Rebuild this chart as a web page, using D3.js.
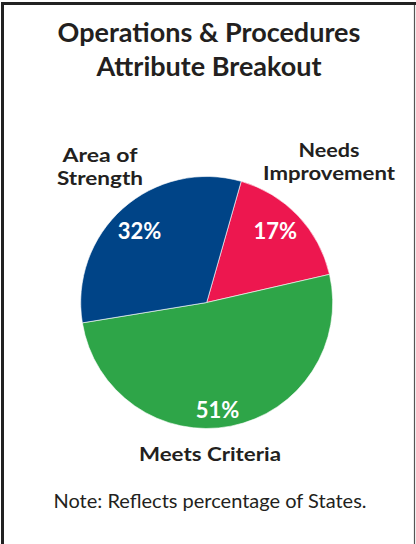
<!DOCTYPE html>
<html>
<head>
<meta charset="utf-8">
<script src="https://cdn.jsdelivr.net/npm/d3@7"></script>
<style>
  html, body { margin: 0; padding: 0; background: #fff; }
  svg { display: block; }
  text { font-family: Lato, "Open Sans", sans-serif; }
</style>
</head>
<body>
<svg id="chart" width="416" height="544"></svg>
<script>
// Attribute breakout, share of States in each rating
const categories = ["Needs Improvement", "Meets Criteria", "Area of Strength"];
const values = [17, 51, 32];
const colors = ["#ED174F", "#2EA548", "#004487"];
const labelLines = [["Needs", "Improvement"], ["Meets Criteria"], ["Area of", "Strength"]];
const titleLines = ["Operations & Procedures", "Attribute Breakout"];
const note = "Note: Reflects percentage of States.";

const W = 416, H = 544;
const svg = d3.select("#chart");

// Frame: heavy rule on the left and top, hairline on the right
svg.append("line").attr("x1", 2.5).attr("y1", 2).attr("x2", 2.5).attr("y2", H)
  .attr("stroke", "#222").attr("stroke-width", 3);
svg.append("line").attr("x1", 1).attr("y1", 3.5).attr("x2", W).attr("y2", 3.5)
  .attr("stroke", "#222").attr("stroke-width", 3);
svg.append("line").attr("x1", 414.5).attr("y1", 5).attr("x2", 414.5).attr("y2", H)
  .attr("stroke", "#555").attr("stroke-width", 1.2);

// Title
svg.append("g").selectAll("text").data(titleLines).join("text")
  .attr("x", 209).attr("y", (d, i) => 42 + i * 34)
  .attr("text-anchor", "middle")
  .attr("font-size", 27).attr("font-weight", 700).attr("fill", "#231f20")
  .text(d => d);

// Pie
const cx = 206.7, cy = 302.5, R = 126;
const start = 15.9 * Math.PI / 180;
const pie = d3.pie().sort(null).value(d => d.value)
  .startAngle(start).endAngle(start + 2 * Math.PI);
const arc = d3.arc().innerRadius(0).outerRadius(R);
const data = categories.map((c, i) => ({ category: c, value: values[i], color: colors[i], lines: labelLines[i] }));
const arcs = pie(data);

const g = svg.append("g").attr("transform", `translate(${cx},${cy})`);
g.selectAll("path").data(arcs).join("path")
  .attr("d", arc).attr("fill", d => d.data.color)
  .attr("stroke", "#fff").attr("stroke-width", 0.6);

// Percent labels: polar placement inside each slice
const pctPlace = {
  "Needs Improvement": { angle: 43.9, r: 99 },
  "Meets Criteria": { angle: 174.3, r: 109 },
  "Area of Strength": { angle: 316.8, r: 98 }
};
g.selectAll("text.pct").data(arcs).join("text")
  .attr("class", "pct")
  .attr("x", d => pctPlace[d.data.category].r * Math.sin(pctPlace[d.data.category].angle * Math.PI / 180))
  .attr("y", d => -pctPlace[d.data.category].r * Math.cos(pctPlace[d.data.category].angle * Math.PI / 180) + 7.5)
  .attr("text-anchor", "middle")
  .attr("font-size", 22).attr("font-weight", 700).attr("fill", "#fff")
  .text(d => d.data.value + "%");

// Category labels around the pie (set width per line, humanist bold face)
const catPlace = {
  "Needs Improvement": { x: 329, y: 157, widths: [61, 132] },
  "Meets Criteria": { x: 210, y: 461, widths: [142] },
  "Area of Strength": { x: 100, y: 162, widths: [75, 86] }
};
arcs.forEach(d => {
  const p = catPlace[d.data.category];
  svg.append("g").selectAll("text").data(d.data.lines).join("text")
    .attr("x", p.x).attr("y", (t, i) => p.y + i * 23)
    .attr("text-anchor", "middle")
    .attr("font-size", 19).attr("font-weight", 700).attr("fill", "#231f20")
    .attr("textLength", (t, i) => p.widths[i])
    .attr("lengthAdjust", "spacingAndGlyphs")
    .text(t => t);
});

// Footnote
svg.append("text").attr("x", 210).attr("y", 508)
  .attr("text-anchor", "middle").attr("font-size", 20).attr("fill", "#231f20")
  .text(note);
</script>
</body>
</html>
